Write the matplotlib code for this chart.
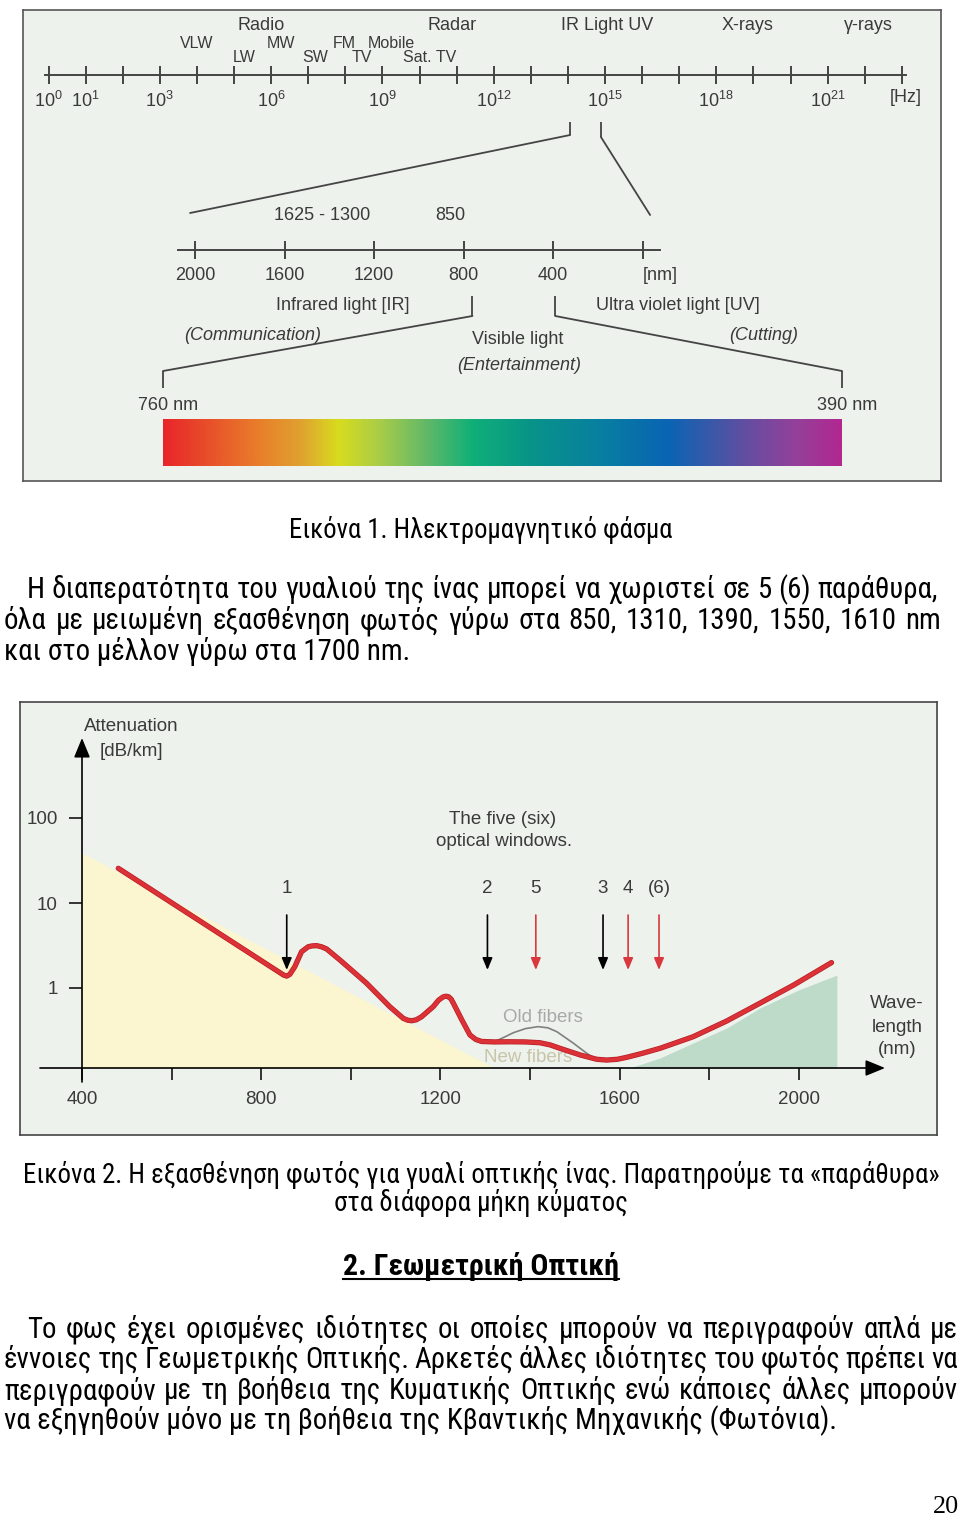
import matplotlib
matplotlib.use('Agg')
import matplotlib.pyplot as plt
import numpy as np
from matplotlib import font_manager
from matplotlib.colors import LinearSegmentedColormap
from matplotlib.patches import ConnectionPatch
from matplotlib.ticker import NullLocator
import matplotlib.patheffects as pe

W, H = 960, 1517

names = {f.name for f in font_manager.fontManager.ttflist}
NARROW = 'Liberation Sans'
for cand in ['Liberation Sans Narrow', 'Arial Narrow', 'Roboto Condensed', 'Open Sans Condensed']:
    if cand in names:
        NARROW = cand
        break
SANS = 'Liberation Sans'
SERIF = 'Liberation Serif'
plt.rcParams['font.family'] = [SANS, 'DejaVu Sans']
plt.rcParams['mathtext.fontset'] = 'custom'
plt.rcParams['mathtext.rm'] = SANS

# ---------------- figure 1 : electromagnetic spectrum ----------------
freq_exp = np.arange(0, 24)
freq_label_exp = [0, 1, 3, 6, 9, 12, 15, 18, 21]
band_top = ['Radio', 'Radar', 'IR Light UV', 'X-rays', 'γ-rays']
band_top_exp = [5.73, 10.88, 15.05, 18.85, 22.09]
band_mid = ['VLW', 'MW', 'FM', 'Mobile']
band_mid_exp = [4.0, 6.27, 7.96, 9.23]
band_low = ['LW', 'SW', 'TV', 'Sat. TV']
band_low_exp = [5.27, 7.18, 8.45, 10.26]
visible_exp = [14.06, 14.89]
zoom_nm = [2022, -34]

wl_ticks = [2000, 1600, 1200, 800, 400, 0]
wl_tick_labels = ['2000', '1600', '1200', '800', '400', '[nm]']
wl_marks = ['1625 - 1300', '850']
wl_marks_nm = [1430, 860]
visible_nm = [760, 390]

rainbow_nm = [760, 730, 706, 686, 665, 642, 616, 592, 560, 523, 484, 460, 438, 414, 390]
rainbow_col = ['#e8262a', '#e85a2a', '#e8822a', '#e0a030', '#d8dc1e', '#a8cc48',
               '#60b868', '#10b078', '#089488', '#0880a0', '#0a64b4', '#3c58a8',
               '#6a4ca0', '#94409a', '#b02890']

# ---------------- figure 2 : attenuation of fibre glass ----------------
curve_nm = [481, 838, 850, 857, 864, 875, 890, 905, 914, 924, 935, 946, 976, 1035, 1087,
            1117, 1127, 1136, 1146, 1158, 1184, 1196, 1206, 1212, 1218, 1224, 1229, 1248,
            1266, 1279, 1292, 1320, 1355, 1390, 1422, 1445, 1467, 1512, 1549, 1571, 1595,
            1616, 1650, 1690, 1764, 1839, 1913, 1988, 2073]
curve_att = [25.6, 1.56, 1.42, 1.38, 1.45, 1.78, 2.67, 3.06, 3.13, 3.15, 3.05, 2.88, 2.13,
             1.14, 0.603, 0.44, 0.418, 0.412, 0.422, 0.459, 0.603, 0.72, 0.785, 0.80,
             0.79, 0.74, 0.661, 0.42, 0.28, 0.248, 0.235, 0.232, 0.233, 0.232, 0.227,
             0.214, 0.195, 0.163, 0.145, 0.142, 0.145, 0.153, 0.170, 0.195, 0.267, 0.409,
             0.661, 1.08, 1.99]
old_nm = [1326, 1345, 1363, 1390, 1418, 1440, 1460, 1497, 1527, 1541]
old_att = [0.240, 0.268, 0.298, 0.333, 0.351, 0.340, 0.306, 0.224, 0.170, 0.153]
rayleigh_nm = [400, 1320]
rayleigh_att = [38.7, 0.115]
ir_nm = [1623, 1690, 1764, 1840, 1913, 2000, 2085]
ir_att = [0.115, 0.15, 0.225, 0.34, 0.58, 0.95, 1.42]
window_nm = [857, 1305, 1413, 1563, 1619, 1688]
window_label = ['1', '2', '5', '3', '4', '(6)']
window_red = [False, False, True, False, True, True]
x_ticks = [400, 600, 800, 1000, 1200, 1400, 1600, 1800, 2000]
x_tick_labels = ['400', '', '800', '', '1200', '', '1600', '', '2000']
y_ticks = [1, 10, 100]
y_tick_labels = ['1', '10', '100']

BG = '#edf2ed'
DARK = '#3a3a3a'
FS1 = 13
FS2 = 13.5


def rect(x0, y0, x1, y1):
    return [x0 / W, 1 - y1 / H, (x1 - x0) / W, (y1 - y0) / H]


fig = plt.figure(figsize=(W / 100, H / 100), dpi=100)
fig.patch.set_facecolor('white')

page = fig.add_axes([0, 0, 1, 1])
page.set_xlim(0, W)
page.set_ylim(H, 0)
page.axis('off')

# ---------- panel 1 ----------
P1 = (23, 10, 941, 481)
ax1 = fig.add_axes(rect(*P1))
ax1.set_xlim(P1[0], P1[2])
ax1.set_ylim(P1[3], P1[1])
ax1.set_facecolor(BG)
ax1.set_xticks([])
ax1.set_yticks([])
for s in ax1.spines.values():
    s.set_color('#555555')
    s.set_linewidth(1.2)


def overlay(r, xl):
    a = fig.add_axes(r)
    a.set_xlim(*xl)
    a.set_ylim(P1[3], P1[1])
    a.axis('off')
    a.patch.set_visible(False)
    return a


ax_f = overlay(rect(*P1), ((P1[0] - 48.5) / 37.1, (P1[2] - 48.5) / 37.1))
ax_w = overlay(rect(*P1), (2000 - (P1[0] - 195) / 0.22375, 2000 - (P1[2] - 195) / 0.22375))
ax_rb = overlay(rect(*P1), (760 - (P1[0] - 163) * 370 / 679, 760 - (P1[2] - 163) * 370 / 679))

LC = '#444444'
ax_f.plot([freq_exp[0] - 0.1, freq_exp[-1] + 0.1], [75, 75], color=LC, lw=1.4)
ax_f.vlines(freq_exp, 66, 84, color=LC, lw=1.4)
for e in freq_label_exp:
    ax_f.text(e, 101, r'$\mathregular{10^{%d}}$' % e, ha='center', va='center',
              fontsize=FS1, color=DARK)
ax_f.text(freq_exp[-1] + 0.1, 98, '[Hz]', ha='center', va='center', fontsize=FS1, color=DARK)
for lab, e in zip(band_top, band_top_exp):
    ax_f.text(e, 25, lab, ha='center', va='center', fontsize=FS1, color=DARK)
for lab, e in zip(band_mid, band_mid_exp):
    ax_f.text(e, 43, lab, ha='center', va='center', fontsize=11.5, color=DARK)
for lab, e in zip(band_low, band_low_exp):
    ax_f.text(e, 58, lab, ha='center', va='center', fontsize=11.5, color=DARK)

ax_f.vlines(visible_exp, 122, [135, 137], color=LC, lw=1.3)
for e, yb, nm, ye in zip(visible_exp, [135, 137], zoom_nm, [213, 215]):
    fig.add_artist(ConnectionPatch(xyA=(e, yb), coordsA=ax_f.transData,
                                   xyB=(nm, ye), coordsB=ax_w.transData,
                                   color=LC, lw=1.3))

ax_w.plot([2076, -78], [250, 250], color=LC, lw=1.4)
ax_w.vlines(wl_ticks, 241, 259, color=LC, lw=1.4)
for v, lab in zip(wl_ticks, wl_tick_labels):
    ax_w.text(v, 276, lab, ha='left' if lab == '[nm]' else 'center', va='center',
              fontsize=FS1, color=DARK)
for lab, v in zip(wl_marks, wl_marks_nm):
    ax_w.text(v, 216, lab, ha='center', va='center', fontsize=FS1, color=DARK)

ax_w.vlines(visible_nm, 296, 316, color=LC, lw=1.3)
for v in visible_nm:
    fig.add_artist(ConnectionPatch(xyA=(v, 316), coordsA=ax_w.transData,
                                   xyB=(v, 371), coordsB=ax_rb.transData,
                                   color=LC, lw=1.3))
ax_rb.vlines(visible_nm, 371, 388, color=LC, lw=1.3)
for v in visible_nm:
    ax_rb.annotate(f'{v} nm', (v, 405), xytext=(4, 0), textcoords='offset points',
                   ha='center', va='center', fontsize=FS1, color=DARK)

pos = [(760 - v) / 370 for v in rainbow_nm]
cmap = LinearSegmentedColormap.from_list('vis', list(zip(pos, rainbow_col)))
ax_rb.imshow(np.linspace(0, 1, 600)[None, :], cmap=cmap, aspect='auto',
             extent=[visible_nm[0], visible_nm[1], 466, 419], interpolation='bilinear')
ax_rb.set_xlim(760 - (P1[0] - 163) * 370 / 679, 760 - (P1[2] - 163) * 370 / 679)
ax_rb.set_ylim(P1[3], P1[1])

for txt, x, y, it in [('Infrared light [IR]', 343, 306, False),
                      ('Ultra violet light [UV]', 678, 306, False),
                      ('(Communication)', 253, 336, True),
                      ('Visible light', 518, 339, False),
                      ('(Entertainment)', 519, 365, True),
                      ('(Cutting)', 764, 336, True)]:
    ax1.text(x, y, txt, ha='center', va='center', fontsize=FS1, color=DARK,
             style='italic' if it else 'normal')

# ---------- panel 2 ----------
P2 = (20, 702, 937, 1135)
ax2bg = fig.add_axes(rect(*P2))
ax2bg.set_xlim(P2[0], P2[2])
ax2bg.set_ylim(P2[3], P2[1])
ax2bg.set_facecolor(BG)
ax2bg.set_xticks([])
ax2bg.set_yticks([])
for s in ax2bg.spines.values():
    s.set_color('#444444')
    s.set_linewidth(1.2)

ax2 = fig.add_axes(rect(*P2))
ax2.patch.set_visible(False)
ax2.set_yscale('log')
ax2.set_xlim(400 + (P2[0] - 82) / 0.448, 400 + (P2[2] - 82) / 0.448)
ax2.set_ylim(10 ** ((988 - P2[3]) / 85), 10 ** ((988 - P2[1]) / 85))
base = 10 ** ((988 - 1068) / 85)

for s in ['top', 'right']:
    ax2.spines[s].set_visible(False)
ax2.spines['bottom'].set_position(('data', base))
ax2.spines['left'].set_position(('data', 400))
ax2.spines['bottom'].set_visible(False)
ax2.spines['left'].set_visible(False)
ax2.set_xticks(x_ticks, x_tick_labels)
ax2.set_yticks(y_ticks, y_tick_labels)
ax2.yaxis.set_minor_locator(NullLocator())
ax2.tick_params(axis='x', direction='out', length=8.5, width=1.1, pad=8,
                labelsize=FS2, labelcolor=DARK)
ax2.tick_params(axis='y', direction='out', length=9.5, width=1.1, pad=8,
                labelsize=FS2, labelcolor=DARK)

ax2.fill_between(rayleigh_nm, rayleigh_att, base, color='#fbf6cf', lw=0, zorder=1)
ax2.fill_between(ir_nm, ir_att, base, color='#bddbc8', lw=0, zorder=1)

ax2.annotate('', xy=(400 + (885 - 82) / 0.448, base), xytext=(400 + (40 - 82) / 0.448, base),
             arrowprops=dict(arrowstyle='-|>,head_length=0.85,head_width=0.35', color='k',
                             lw=1.2, mutation_scale=14, shrinkA=0, shrinkB=0), zorder=3)
ax2.annotate('', xy=(400, 10 ** ((988 - 738) / 85)), xytext=(400, 10 ** ((988 - 1082) / 85)),
             arrowprops=dict(arrowstyle='-|>,head_length=0.85,head_width=0.35', color='k',
                             lw=1.2, mutation_scale=14, shrinkA=0, shrinkB=0), zorder=3)

ax2.plot(old_nm, old_att, color='#808080', lw=1.2, zorder=2)
ax2.plot(curve_nm, curve_att, color='#dc3136', lw=2.8, solid_joinstyle='round',
         solid_capstyle='round', zorder=4,
         path_effects=[pe.Stroke(linewidth=3.8, foreground='#b51f25'), pe.Normal()])

for nm, lab, red in zip(window_nm, window_label, window_red):
    c = '#d9383e' if red else 'black'
    ax2.annotate('', xy=(nm, 1.63), xytext=(nm, 7.22),
                 arrowprops=dict(arrowstyle='-|>,head_length=0.6,head_width=0.25', color=c,
                                 lw=1.2, mutation_scale=12, shrinkA=0, shrinkB=0), zorder=5)
    ax2.text(nm, 15.0, lab, ha='center', va='center', fontsize=FS2, color=DARK)

for txt, x, y, c in [('Attenuation', 131, 727, DARK), ('[dB/km]', 131, 752, DARK),
                     ('The five (six)', 503, 820, DARK), ('optical windows.', 504, 841, DARK),
                     ('Rayleigh', 171, 1003, DARK), ('scattering', 171, 1026, DARK),
                     ('Old fibers', 543, 1017, '#a8a8a8'), ('New fibers', 528, 1058, '#c8c4a8'),
                     ('IR', 793, 1024, DARK), ('absorption', 793, 1049, DARK),
                     ('Wave-', 897, 1004, DARK), ('length', 897, 1027, DARK),
                     ('(nm)', 897, 1050, DARK)]:
    ax2bg.text(x, y, txt, ha='center', va='center', fontsize=FS2, color=c, zorder=6)

# ---------- page text ----------
fig.canvas.draw()
R = fig.canvas.get_renderer()


def width_of(s, size, **kw):
    t = page.text(0, 0, s, fontsize=size, **kw)
    w = t.get_window_extent(R).width
    t.remove()
    return w


def fit_size(s, target, **kw):
    return 20 * target / width_of(s, 20, **kw)


def justified(s, x0, x1, y, size, **kw):
    words = s.split()
    ws = [width_of(w, size, **kw) for w in words]
    gap = (x1 - x0 - sum(ws)) / (len(words) - 1)
    x = x0
    for w, wd in zip(words, ws):
        page.text(x, y, w, fontsize=size, va='baseline', ha='left', **kw)
        x += wd + gap


body = dict(family=[NARROW, SANS], color='black')

cap1 = 'Εικόνα 1. Ηλεκτρομαγνητικό φάσμα'
page.text(481, 538, cap1, fontsize=fit_size(cap1, 383, **body), ha='center', va='baseline', **body)

p1 = ['Η διαπερατότητα του γυαλιού της ίνας μπορεί να χωριστεί σε 5 (6) παράθυρα,',
      'όλα με μειωμένη εξασθένηση φωτός γύρω στα 850, 1310, 1390, 1550, 1610 nm',
      'και στο μέλλον γύρω στα 1700 nm.']
p2 = ['Το φως έχει ορισμένες ιδιότητες οι οποίες μπορούν να περιγραφούν απλά με',
      'έννοιες της Γεωμετρικής Οπτικής. Αρκετές άλλες ιδιότητες του φωτός πρέπει να',
      'περιγραφούν με τη βοήθεια της Κυματικής Οπτικής ενώ κάποιες άλλες μπορούν',
      'να εξηγηθούν μόνο με τη βοήθεια της Κβαντικής Μηχανικής (Φωτόνια).']
fs_body = 0.5 * (fit_size(p1[2], 410, **body) + fit_size(p2[3], 828, **body))

justified(p1[0], 27, 938, 598, fs_body, **body)
justified(p1[1], 4, 941, 629, fs_body, **body)
page.text(4, 660, p1[2], fontsize=fs_body, va='baseline', ha='left', **body)

cap2 = 'Εικόνα 2. Η εξασθένηση φωτός για γυαλί οπτικής ίνας. Παρατηρούμε τα «παράθυρα»'
fs_cap2 = fit_size(cap2, 918, **body)
page.text(481, 1183, cap2, fontsize=fs_cap2, ha='center', va='baseline', **body)
page.text(481, 1211, 'στα διάφορα μήκη κύματος', fontsize=fs_cap2, ha='center', va='baseline', **body)

head = '2. Γεωμετρική Οπτική'
hb = dict(family=[NARROW, SANS], color='black', weight='bold')
page.text(343, 1275, head, fontsize=fit_size(head, 276, **hb), ha='left', va='baseline', **hb)
page.plot([343, 619], [1279, 1279], color='black', lw=1.5)

justified(p2[0], 27, 958, 1338, fs_body, **body)
justified(p2[1], 4, 958, 1368, fs_body, **body)
justified(p2[2], 4, 958, 1399, fs_body, **body)
page.text(4, 1429, p2[3], fontsize=fs_body, va='baseline', ha='left', **body)

pn = dict(family=[SERIF], color='black')
page.text(959, 1513, '20', fontsize=fit_size('20', 26, **pn), ha='right', va='baseline', **pn)

fig.savefig('out.png', dpi=100, facecolor='white')
